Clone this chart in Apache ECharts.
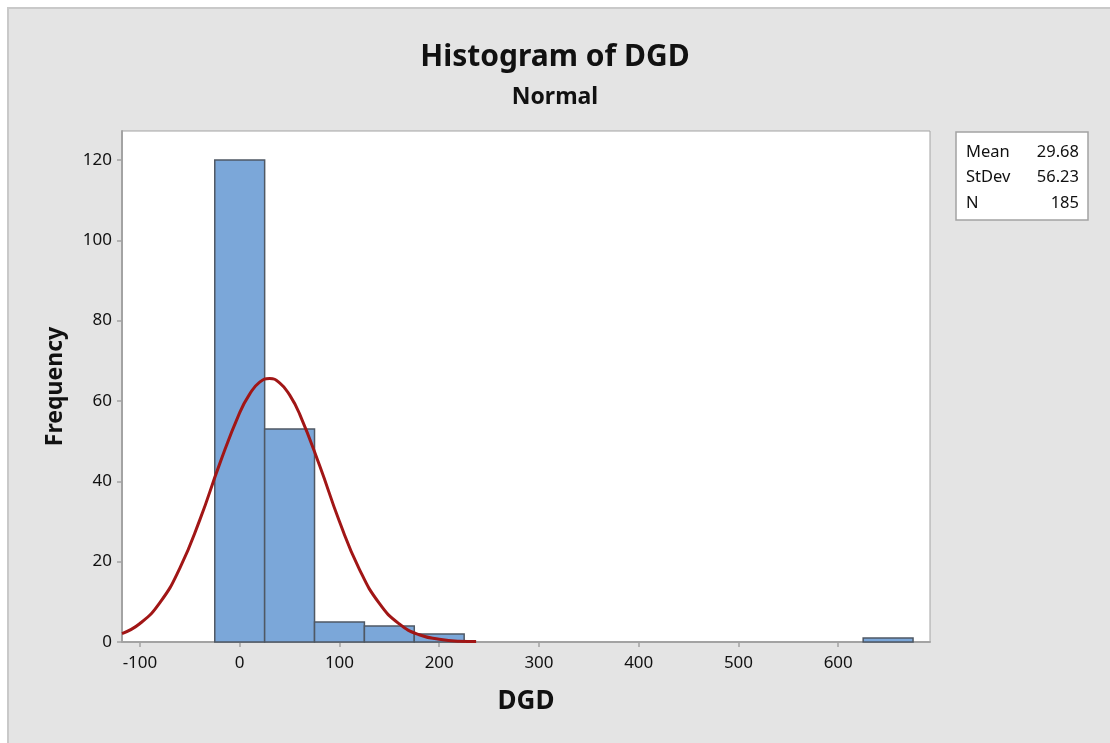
<!DOCTYPE html>
<html>
<head>
<meta charset="utf-8">
<script src="https://cdn.jsdelivr.net/npm/echarts@6/dist/echarts.min.js"></script>
<style>
  html, body { margin: 0; padding: 0; background: #fff; }
  #frame { position: absolute; left: 7px; top: 7px; width: 1103px; height: 736px;
           background: #e4e4e4; border-left: 2px solid #c9c9c9; border-top: 2px solid #c9c9c9; box-sizing: border-box; }
  #main { position: absolute; left: 0; top: 0; width: 1110px; height: 743px; }
</style>
</head>
<body>
<div id="frame"></div>
<div id="main"></div>
<script>
// histogram bins (DGD) and counts
const binLo = [-25, 25, 75, 125, 175, 625];
const binHi = [25, 75, 125, 175, 225, 675];
const counts = [120, 53, 5, 4, 2, 1];

// fitted normal curve
const curveX = [-118, -100, -80, -60, -40, -20, 0, 10, 20, 30, 40, 50, 60, 80, 100, 120, 140, 160, 180, 200, 220, 237];
const curveY = [2.1, 4.6, 9.8, 18.4, 30.4, 44.4, 57.1, 61.7, 64.7, 65.6, 64.5, 61.5, 56.8, 44.0, 30.0, 18.1, 9.6, 4.5, 1.8, 0.7, 0.2, 0.1];

const xTicks = [-100, 0, 100, 200, 300, 400, 500, 600];
const yTicks = [0, 20, 40, 60, 80, 100, 120];

const statLabels = ['Mean', 'StDev', 'N'];
const statValues = ['29.68', '56.23', '185'];

const fontFam = '"Noto Sans", "Open Sans", sans-serif';
const txt = '#111';
const axisGrey = '#a3a3a3';

const chart = echarts.init(document.getElementById('main'));

const histData = binLo.map((lo, i) => [lo, binHi[i], counts[i]]);
const curveData = curveX.map((x, i) => [x, curveY[i]]);

const statTexts = [];
for (let i = 0; i < statLabels.length; i++) {
  const y = 152 + i * 25.5;
  statTexts.push({
    type: 'text', x: 966, y: y,
    style: { text: statLabels[i], font: '16.5px ' + fontFam, fill: txt, verticalAlign: 'middle' }
  });
  statTexts.push({
    type: 'text', x: 1079, y: y,
    style: { text: statValues[i], font: '16.5px ' + fontFam, fill: txt, align: 'right', verticalAlign: 'middle' }
  });
}

let option = {
  animation: false,
  backgroundColor: 'transparent',
  title: [
    {
      text: 'Histogram of DGD',
      left: 'center',
      top: 37,
      textStyle: { fontFamily: fontFam, fontWeight: 'bold', fontSize: 30, color: txt }
    },
    {
      text: 'Normal',
      left: 'center',
      top: 81,
      textStyle: { fontFamily: fontFam, fontWeight: 'bold', fontSize: 23, color: txt }
    }
  ],
  grid: {
    show: true,
    left: 122,
    top: 131,
    width: 808,
    height: 511,
    backgroundColor: '#fff',
    borderColor: axisGrey,
    borderWidth: 1
  },
  xAxis: {
    type: 'value',
    min: -118,
    max: 692,
    name: 'DGD',
    nameLocation: 'middle',
    nameGap: 47,
    nameTextStyle: { fontFamily: fontFam, fontWeight: 'bold', fontSize: 26, color: txt },
    axisLine: { show: true, onZero: false, lineStyle: { color: axisGrey, width: 2 } },
    axisTick: { show: true, length: 5, lineStyle: { color: axisGrey, width: 1.5 }, customValues: xTicks },
    axisLabel: { fontFamily: fontFam, fontSize: 17, color: txt, margin: 13, customValues: xTicks },
    splitLine: { show: false }
  },
  yAxis: {
    type: 'value',
    min: 0,
    max: 127.2,
    name: 'Frequency',
    nameLocation: 'middle',
    nameGap: 55,
    nameRotate: 90,
    nameTextStyle: { fontFamily: fontFam, fontWeight: 'bold', fontSize: 23, color: txt },
    axisLine: { show: true, onZero: false, lineStyle: { color: axisGrey, width: 2 } },
    axisTick: { show: true, length: 5, lineStyle: { color: axisGrey, width: 1.5 }, customValues: yTicks },
    axisLabel: { fontFamily: fontFam, fontSize: 17, color: txt, margin: 10, customValues: yTicks },
    splitLine: { show: false }
  },
  graphic: [
    {
      type: 'rect',
      shape: { x: 956, y: 132, width: 132, height: 88 },
      style: { fill: '#fff', stroke: axisGrey, lineWidth: 1.5 }
    }
  ].concat(statTexts),
  series: [
    {
      type: 'custom',
      name: 'DGD',
      data: histData,
      encode: { x: [0, 1], y: 2 },
      renderItem: function (params, api) {
        const p0 = api.coord([api.value(0), api.value(2)]);
        const p1 = api.coord([api.value(1), 0]);
        return {
          type: 'rect',
          shape: { x: p0[0], y: p0[1], width: p1[0] - p0[0], height: p1[1] - p0[1] },
          style: { fill: '#7ba7d9', stroke: '#4f5864', lineWidth: 1.5 }
        };
      },
      z: 2
    },
    {
      type: 'line',
      name: 'Normal',
      data: curveData,
      smooth: true,
      showSymbol: false,
      symbol: 'none',
      lineStyle: { color: '#a11616', width: 3 },
      z: 3
    }
  ]
};
chart.setOption(option);
</script>
</body>
</html>
